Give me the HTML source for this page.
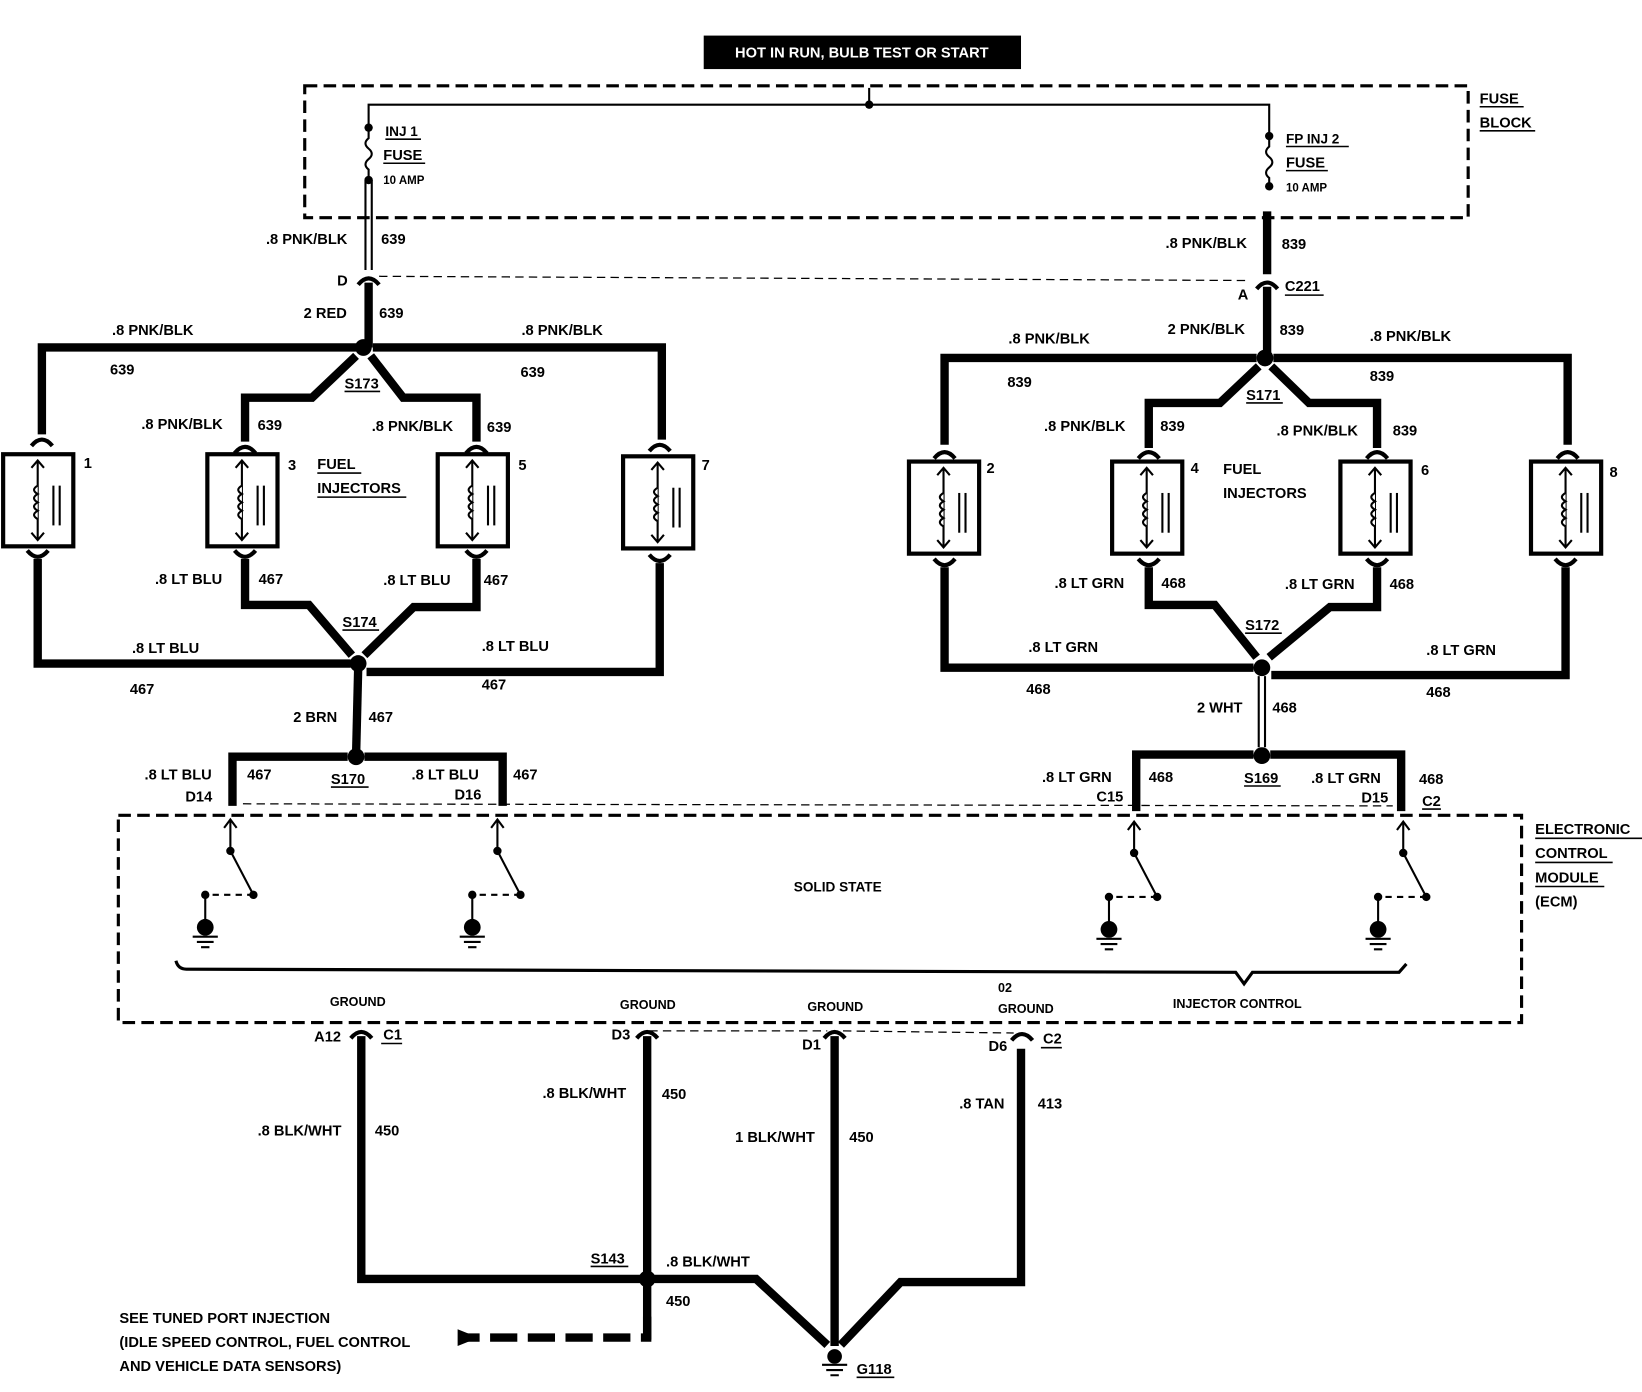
<!DOCTYPE html>
<html><head><meta charset="utf-8"><style>
html,body{margin:0;padding:0;background:#fff;}
svg{display:block}
text{font-family:"Liberation Sans",sans-serif;font-weight:bold;font-size:14px;fill:#000}
.w{stroke:#000;stroke-width:8;fill:none;stroke-linejoin:miter}
.t{stroke:#000;stroke-width:2;fill:none}
.d{stroke:#000;stroke-width:3;fill:none;stroke-dasharray:12 6}
.dt{stroke:#000;stroke-width:1.2;fill:none;stroke-dasharray:8 5}
.u{stroke:#000;stroke-width:1.5}
</style></head><body>
<svg width="1642" height="1392" viewBox="0 0 1568 1330" preserveAspectRatio="none" xmlns="http://www.w3.org/2000/svg">
<defs>
<g id="inj">
<rect x="0" y="0" width="67" height="88" fill="none" stroke="#000" stroke-width="4"/>
<line x1="33" y1="6" x2="33" y2="82" stroke="#000" stroke-width="2"/>
<path d="M27,13 L33,6 L39,13 M27,75 L33,82 L39,75" stroke="#000" stroke-width="2" fill="none"/>
<path d="M33,30 q-7,4 0,8 q-7,4 0,8 q-7,4 0,8 q-7,4 0,8" stroke="#000" stroke-width="2" fill="#fff"/>
<line x1="48" y1="30" x2="48" y2="68" stroke="#000" stroke-width="2"/>
<line x1="54" y1="30" x2="54" y2="68" stroke="#000" stroke-width="2"/>
</g>
<g id="sw">
<path d="M0,0 L0,30 L22,72" stroke="#000" stroke-width="2" fill="none"/>
<path d="M-6,8 L0,0 L6,8" stroke="#000" stroke-width="2" fill="none"/>
<circle cx="0" cy="30" r="4"/><circle cx="22" cy="72" r="4"/>
<path d="M22,72 L-22,72" stroke="#000" stroke-width="2" stroke-dasharray="6 5"/>
<circle cx="-24" cy="72" r="4"/>
<line x1="-24" y1="72" x2="-24" y2="98" stroke="#000" stroke-width="2"/>
<circle cx="-24" cy="103" r="8"/>
<path d="M-36,112 h24 M-32,117 h16 M-28,122 h8" stroke="#000" stroke-width="2"/>
</g>
<g id="cap"><path d="M-10,8 Q0,-4 10,8" stroke="#000" stroke-width="4" fill="none"/></g>
<g id="capd"><path d="M-10,-8 Q0,4 10,-8" stroke="#000" stroke-width="4" fill="none"/></g>
</defs>

<rect x="672" y="34" width="303" height="32" fill="#000"/>
<text x="823" y="55" text-anchor="middle" style="fill:#fff;font-size:14px">HOT IN RUN, BULB TEST OR START</text>

<rect x="291" y="82" width="1111" height="126" class="d"/>
<text x="1413" y="99">FUSE</text><line x1="1413" y1="102" x2="1455" y2="102" class="u"/>
<text x="1413" y="122">BLOCK</text><line x1="1413" y1="125" x2="1466" y2="125" class="u"/>
<path d="M352,122 V100 H1212 V130" class="t"/>
<line x1="830" y1="84" x2="830" y2="100" class="t"/><circle cx="830" cy="100" r="4"/>
<circle cx="352" cy="122" r="4"/><circle cx="352" cy="172" r="4"/>
<path d="M352,122 v10 q-6,5 0,10 q6,5 0,10 q-6,5 0,10 v10" class="t"/>
<circle cx="1212" cy="130" r="4"/><circle cx="1212" cy="178" r="4"/>
<path d="M1212,130 v10 q-6,5 0,10 q6,5 0,10 q-6,5 0,10 v8" class="t"/>
<text x="368" y="130" style="font-size:13px">INJ 1</text><line x1="368" y1="133" x2="402" y2="133" class="u"/>
<text x="366" y="153">FUSE</text><line x1="366" y1="156" x2="406" y2="156" class="u"/>
<text x="366" y="176" style="font-size:11px">10 AMP</text>
<text x="1228" y="137" style="font-size:13px">FP INJ 2</text><line x1="1228" y1="140" x2="1288" y2="140" class="u"/>
<text x="1228" y="160">FUSE</text><line x1="1228" y1="163" x2="1268" y2="163" class="u"/>
<text x="1228" y="183" style="font-size:11px">10 AMP</text>

<path d="M349,172 V258 M355,172 V258" class="t"/>
<use href="#cap" x="352" y="264"/>
<line x1="352" y1="270" x2="352" y2="332" class="w"/>
<text x="254" y="233">.8 PNK/BLK</text><text x="364" y="233">639</text>
<text x="322" y="273">D</text>
<text x="290" y="304">2 RED</text><text x="362" y="304">639</text>
<line x1="362" y1="264" x2="1190" y2="268" class="dt"/>
<line x1="1210" y1="202" x2="1210" y2="262" class="w"/>
<use href="#cap" x="1210" y="268"/>
<line x1="1210" y1="274" x2="1210" y2="342" class="w"/>
<text x="1113" y="237">.8 PNK/BLK</text><text x="1224" y="238">839</text>
<text x="1182" y="286">A</text>
<text x="1227" y="278">C221</text><line x1="1227" y1="282" x2="1264" y2="282" class="u"/>
<text x="1115" y="319">2 PNK/BLK</text><text x="1222" y="320">839</text>

<circle cx="347" cy="332" r="8"/>
<path d="M340,332 H40 V415" class="w"/>
<path d="M356,332 H632 V420" class="w"/>
<path d="M340,340 L298,380 H234 V422" class="w"/>
<path d="M354,340 L385,380 H455 V422" class="w"/>
<use href="#cap" x="40" y="418"/><use href="#cap" x="234" y="425"/><use href="#cap" x="455" y="425"/><use href="#cap" x="630" y="423"/>
<text x="107" y="320">.8 PNK/BLK</text><text x="105" y="358">639</text>
<text x="498" y="320">.8 PNK/BLK</text><text x="497" y="360">639</text>
<text x="329" y="371">S173</text><line x1="329" y1="374" x2="363" y2="374" class="u"/>
<text x="135" y="410">.8 PNK/BLK</text><text x="246" y="411">639</text>
<text x="355" y="412">.8 PNK/BLK</text><text x="465" y="413">639</text>
<use href="#inj" x="3" y="434"/><use href="#inj" x="198" y="434"/><use href="#inj" x="418" y="434"/><use href="#inj" x="595" y="436"/>
<text x="80" y="447">1</text><text x="275" y="449">3</text><text x="495" y="449">5</text><text x="670" y="449">7</text>
<text x="303" y="448">FUEL</text><line x1="303" y1="452" x2="345" y2="452" class="u"/>
<text x="303" y="471">INJECTORS</text><line x1="303" y1="475" x2="388" y2="475" class="u"/>
<use href="#capd" x="36" y="534"/><use href="#capd" x="234" y="534"/><use href="#capd" x="455" y="534"/><use href="#capd" x="630" y="538"/>
<path d="M36,534 V634 H335" class="w"/>
<path d="M630,538 V642 H350" class="w"/>
<path d="M234,534 V578 H295 L336,626" class="w"/>
<path d="M455,534 V580 H395 L348,626" class="w"/>
<circle cx="342" cy="634" r="8"/>
<line x1="342" y1="640" x2="340" y2="723" class="w"/>
<text x="148" y="558">.8 LT BLU</text><text x="247" y="558">467</text>
<text x="366" y="559">.8 LT BLU</text><text x="462" y="559">467</text>
<text x="327" y="599">S174</text><line x1="327" y1="602" x2="362" y2="602" class="u"/>
<text x="126" y="624">.8 LT BLU</text><text x="460" y="622">.8 LT BLU</text>
<text x="124" y="663">467</text><text x="460" y="659">467</text>
<text x="280" y="690">2 BRN</text><text x="352" y="690">467</text>
<circle cx="340" cy="723" r="8"/>
<path d="M332,723 H222 V770" class="w"/>
<path d="M348,723 H480 V770" class="w"/>
<text x="138" y="745">.8 LT BLU</text><text x="236" y="745">467</text>
<text x="316" y="749">S170</text><line x1="316" y1="752" x2="352" y2="752" class="u"/>
<text x="393" y="745">.8 LT BLU</text><text x="490" y="745">467</text>
<text x="177" y="766">D14</text><text x="434" y="764">D16</text>

<circle cx="1208" cy="342" r="8"/>
<path d="M1200,342 H902 V425" class="w"/>
<path d="M1216,342 H1497 V425" class="w"/>
<path d="M1202,350 L1165,385 H1097 V428" class="w"/>
<path d="M1214,350 L1250,385 H1315 V428" class="w"/>
<use href="#cap" x="902" y="430"/><use href="#cap" x="1097" y="430"/><use href="#cap" x="1315" y="430"/><use href="#cap" x="1497" y="430"/>
<text x="963" y="328">.8 PNK/BLK</text><text x="962" y="370">839</text>
<text x="1308" y="326">.8 PNK/BLK</text><text x="1308" y="364">839</text>
<text x="1190" y="382">S171</text><line x1="1190" y1="385" x2="1225" y2="385" class="u"/>
<text x="997" y="412">.8 PNK/BLK</text><text x="1108" y="412">839</text>
<text x="1219" y="416">.8 PNK/BLK</text><text x="1330" y="416">839</text>
<use href="#inj" x="868" y="441"/><use href="#inj" x="1062" y="441"/><use href="#inj" x="1280" y="441"/><use href="#inj" x="1462" y="441"/>
<text x="942" y="452">2</text><text x="1137" y="452">4</text><text x="1357" y="454">6</text><text x="1537" y="456">8</text>
<text x="1168" y="453">FUEL</text><text x="1168" y="476">INJECTORS</text>
<use href="#capd" x="902" y="542"/><use href="#capd" x="1097" y="542"/><use href="#capd" x="1315" y="542"/><use href="#capd" x="1495" y="542"/>
<path d="M902,542 V638 H1197" class="w"/>
<path d="M1495,542 V645 H1214" class="w"/>
<path d="M1097,542 V578 H1160 L1200,628" class="w"/>
<path d="M1315,542 V580 H1270 L1212,628" class="w"/>
<circle cx="1205" cy="638" r="8"/>
<path d="M1202,646 V714 M1208,646 V714" class="t"/>
<text x="1007" y="562">.8 LT GRN</text><text x="1109" y="562">468</text>
<text x="1227" y="563">.8 LT GRN</text><text x="1327" y="563">468</text>
<text x="1189" y="602">S172</text><line x1="1189" y1="605" x2="1224" y2="605" class="u"/>
<text x="982" y="623">.8 LT GRN</text><text x="1362" y="626">.8 LT GRN</text>
<text x="980" y="663">468</text><text x="1362" y="666">468</text>
<text x="1143" y="681">2 WHT</text><text x="1215" y="681">468</text>
<circle cx="1205" cy="722" r="8"/>
<path d="M1197,721 H1085 V775" class="w"/>
<path d="M1213,721 H1338 V775" class="w"/>
<text x="995" y="747">.8 LT GRN</text><text x="1097" y="747">468</text>
<text x="1188" y="748">S169</text><line x1="1188" y1="751" x2="1223" y2="751" class="u"/>
<text x="1252" y="748">.8 LT GRN</text><text x="1355" y="749">468</text>
<text x="1047" y="766">C15</text><text x="1300" y="767">D15</text>
<text x="1358" y="770">C2</text><line x1="1358" y1="773" x2="1376" y2="773" class="u"/>
<line x1="232" y1="768" x2="1330" y2="770" class="dt"/>

<rect x="113" y="779" width="1340" height="198" class="d"/>
<text x="1466" y="797">ELECTRONIC</text><line x1="1466" y1="801" x2="1568" y2="801" class="u"/>
<text x="1466" y="820">CONTROL</text><line x1="1466" y1="824" x2="1540" y2="824" class="u"/>
<text x="1466" y="843">MODULE</text><line x1="1466" y1="847" x2="1532" y2="847" class="u"/>
<text x="1466" y="866">(ECM)</text>
<use href="#sw" x="220" y="783"/><use href="#sw" x="475" y="783"/><use href="#sw" x="1083" y="785"/><use href="#sw" x="1340" y="785"/>
<text x="758" y="852" style="font-size:13px">SOLID STATE</text>
<path d="M168,918 Q170,926 178,926 L1180,929 L1188,940 L1196,929 L1336,929 L1343,921" stroke="#000" stroke-width="3" fill="none"/>
<text x="315" y="961" style="font-size:12px">GROUND</text>
<text x="592" y="964" style="font-size:12px">GROUND</text>
<text x="771" y="966" style="font-size:12px">GROUND</text>
<text x="953" y="948" style="font-size:12px">02</text>
<text x="953" y="968" style="font-size:12px">GROUND</text>
<text x="1120" y="963" style="font-size:12px">INJECTOR CONTROL</text>

<use href="#cap" x="345" y="984"/><use href="#cap" x="618" y="984"/><use href="#cap" x="797" y="984"/><use href="#cap" x="976" y="986"/>
<line x1="620" y1="985" x2="790" y2="985" class="dt"/>
<line x1="805" y1="985" x2="968" y2="987" class="dt"/>
<text x="300" y="995">A12</text><text x="366" y="993">C1</text><line x1="364" y1="997" x2="384" y2="997" class="u"/>
<text x="584" y="993">D3</text><text x="766" y="1003">D1</text><text x="944" y="1004">D6</text>
<text x="996" y="997">C2</text><line x1="994" y1="1001" x2="1014" y2="1001" class="u"/>
<path d="M345,990 V1222 H612" class="w"/>
<path d="M618,990 V1280" class="w"/>
<path d="M618,1258 V1278 H440" class="w" stroke-dasharray="26 10"/>
<path d="M437,1270 L457,1278 L437,1286 Z"/>
<line x1="797" y1="990" x2="797" y2="1286" class="w"/>
<path d="M975,1002 V1225 H860 L803,1285" class="w"/>
<path d="M625,1222 H722 L790,1285" class="w"/>
<circle cx="618" cy="1222" r="8"/>
<circle cx="797" cy="1296" r="7"/>
<path d="M785,1304 h24 M789,1309 h16 M793,1314 h8" stroke="#000" stroke-width="2"/>
<text x="818" y="1313">G118</text><line x1="818" y1="1316" x2="854" y2="1316" class="u"/>
<text x="246" y="1085">.8 BLK/WHT</text><text x="358" y="1085">450</text>
<text x="518" y="1049">.8 BLK/WHT</text><text x="632" y="1050">450</text>
<text x="702" y="1091">1 BLK/WHT</text><text x="811" y="1091">450</text>
<text x="916" y="1059">.8 TAN</text><text x="991" y="1059">413</text>
<text x="564" y="1207">S143</text><line x1="564" y1="1210" x2="600" y2="1210" class="u"/>
<text x="636" y="1210">.8 BLK/WHT</text><text x="636" y="1248">450</text>
<text x="114" y="1264">SEE TUNED PORT INJECTION</text>
<text x="114" y="1287">(IDLE SPEED CONTROL, FUEL CONTROL</text>
<text x="114" y="1310">AND VEHICLE DATA SENSORS)</text>
</svg>
</body></html>
